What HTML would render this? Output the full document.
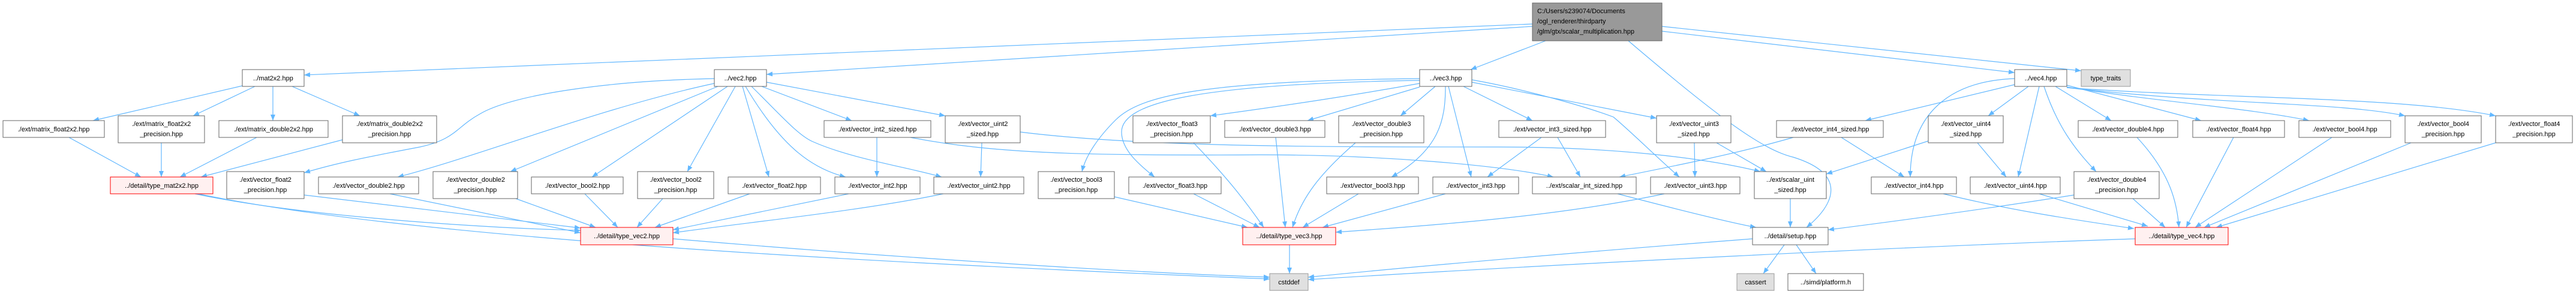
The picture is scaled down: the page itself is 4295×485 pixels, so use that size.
<!DOCTYPE html>
<html><head><meta charset="utf-8"><style>
html,body{margin:0;padding:0;background:#fff;}
svg{display:block;}
text{font-family:"Liberation Sans",sans-serif;font-size:11px;fill:#000;}
.n{fill:#fff;stroke:#666;stroke-width:1;}
.r{fill:#fff0f0;stroke:#f00;stroke-width:1;}
.g{fill:#e0e0e0;stroke:#999;stroke-width:1;}
.e{fill:none;stroke:#63b8ff;stroke-width:1.2;marker-end:url(#a);}
</style></head><body>
<svg width="4295" height="485" viewBox="0 0 4295 485" xmlns="http://www.w3.org/2000/svg">
<defs><marker id="a" markerWidth="10" markerHeight="8" refX="10" refY="4" orient="auto" markerUnits="userSpaceOnUse"><path d="M0,0 L10,4 L0,8 z" fill="#63b8ff"/></marker></defs>
<g>
<!-- root edges -->
<path class="e" d="M2555,40 L507,125"/>
<path class="e" d="M2555,44 L1278,124"/>
<path class="e" d="M2577,68 L2452,116"/>
<path class="e" d="M2771,52 L3359,121"/>
<path class="e" d="M2771,44 L3470,118"/>
<path class="e" d="M2715,68 C2870,200 2940,250 2990,262 C3080,290 3060,340 3012,379"/>
<!-- mat2x2 -->
<path class="e" d="M404,143 L155,201"/>
<path class="e" d="M425,144 L322,193"/>
<path class="e" d="M455,144 L455,201"/>
<path class="e" d="M487,144 L600,193"/>
<path class="e" d="M115,229 L235,295"/>
<path class="e" d="M269,238 L269,295"/>
<path class="e" d="M428,229 L300,295"/>
<path class="e" d="M571,233 L335,295"/>
<path class="e" d="M325,323 C500,360 800,380 968,384"/>
<path class="e" d="M330,323 C700,400 1500,440 2117,465"/>
<!-- vec2 -->
<path class="e" d="M1191,131 C1000,135 850,160 800,190 C760,212 760,232 700,245 C610,262 560,272 507,288"/>
<path class="e" d="M1191,139 C1000,180 800,260 663,295"/>
<path class="e" d="M1197,144 L851,286"/>
<path class="e" d="M1213,144 L987,295"/>
<path class="e" d="M1226,144 L1146,286"/>
<path class="e" d="M1238,144 L1282,295"/>
<path class="e" d="M1243,144 C1300,240 1350,280 1410,295"/>
<path class="e" d="M1253,144 C1300,190 1330,225 1355,236 C1420,265 1520,280 1570,295"/>
<path class="e" d="M1270,144 L1420,201"/>
<path class="e" d="M1278,137 L1576,193"/>
<path class="e" d="M1462,229 L1462,295"/>
<path class="e" d="M1518,229 C1650,255 1800,260 2100,258 C2300,258 2500,275 2590,295"/>
<path class="e" d="M1637,238 L1635,295"/>
<path class="e" d="M1701,220 C1900,245 2200,245 2500,245 C2700,245 2850,265 2935,286"/>
<path class="e" d="M507,325 L968,380"/>
<path class="e" d="M650,323 L968,388"/>
<path class="e" d="M860,331 L993,379"/>
<path class="e" d="M975,323 L1030,379"/>
<path class="e" d="M1105,331 L1062,379"/>
<path class="e" d="M1250,323 L1092,379"/>
<path class="e" d="M1415,323 L1122,383"/>
<path class="e" d="M1582,321 C1450,350 1250,370 1122,388"/>
<path class="e" d="M1122,398 C1500,430 1900,455 2117,462"/>
<!-- vec3 -->
<path class="e" d="M2367,139 C2250,160 2150,175 2018,193"/>
<path class="e" d="M2367,145 L2180,201"/>
<path class="e" d="M2393,144 L2335,193"/>
<path class="e" d="M2367,131 C2000,135 1900,160 1860,200 C1830,230 1810,260 1804,286"/>
<path class="e" d="M2367,134 C2000,140 1870,170 1870,220 C1870,250 1900,275 1925,295"/>
<path class="e" d="M2410,144 C2410,200 2400,250 2320,295"/>
<path class="e" d="M2415,144 L2453,295"/>
<path class="e" d="M2440,144 L2555,201"/>
<path class="e" d="M2454,137 L2762,197"/>
<path class="e" d="M2454,133 C2550,150 2650,180 2690,195 C2720,220 2760,260 2800,295"/>
<path class="e" d="M2570,229 L2480,295"/>
<path class="e" d="M2597,229 L2635,295"/>
<path class="e" d="M2825,238 L2826,295"/>
<path class="e" d="M2862,238 L2945,286"/>
<path class="e" d="M2990,229 C2900,255 2800,275 2700,295"/>
<path class="e" d="M1990,238 C2050,300 2080,340 2107,379"/>
<path class="e" d="M2127,229 L2143,379"/>
<path class="e" d="M2260,238 C2200,290 2170,330 2155,379"/>
<path class="e" d="M1858,328 L2080,379"/>
<path class="e" d="M1990,323 L2100,379"/>
<path class="e" d="M2265,323 L2172,379"/>
<path class="e" d="M2410,323 L2205,379"/>
<path class="e" d="M2775,323 C2600,360 2400,375 2227,387"/>
<path class="e" d="M2150,408 L2150,456"/>
<path class="e" d="M2697,323 C2800,350 2880,370 2928,379"/>
<path class="e" d="M2985,331 L2985,379"/>
<path class="e" d="M2975,408 L2940,456"/>
<path class="e" d="M2995,408 L3028,456"/>
<path class="e" d="M2922,398 C2700,415 2400,440 2181,462"/>
<path class="e" d="M3560,398 C3200,410 2600,440 2181,466"/>
<!-- vec4 -->
<path class="e" d="M3359,141 L3110,201"/>
<path class="e" d="M3359,131 C3250,135 3185,190 3185,295"/>
<path class="e" d="M3382,144 L3315,193"/>
<path class="e" d="M3400,144 L3365,295"/>
<path class="e" d="M3408,144 C3430,210 3460,250 3495,286"/>
<path class="e" d="M3427,144 L3520,201"/>
<path class="e" d="M3446,142 L3670,201"/>
<path class="e" d="M3446,145 C3600,170 3750,180 3850,201"/>
<path class="e" d="M3446,146 C3700,175 3900,170 4010,193"/>
<path class="e" d="M3446,146 C3700,165 4000,160 4161,193"/>
<path class="e" d="M3070,229 L3175,295"/>
<path class="e" d="M3297,238 L3345,295"/>
<path class="e" d="M3215,235 L3045,290"/>
<path class="e" d="M3240,323 C3350,350 3450,365 3558,381"/>
<path class="e" d="M3400,323 L3581,377"/>
<path class="e" d="M3556,331 L3610,379"/>
<path class="e" d="M3458,325 C3300,350 3150,370 3048,383"/>
<path class="e" d="M3563,229 C3620,290 3630,340 3633,379"/>
<path class="e" d="M3724,229 L3645,379"/>
<path class="e" d="M3888,229 L3660,379"/>
<path class="e" d="M4020,238 L3675,379"/>
<path class="e" d="M4161,238 L3695,379"/>
</g>
<g>
<!-- root -->
<rect x="2555" y="5" width="216" height="63" fill="#999" stroke="#666"/>
<text x="2563" y="22">C:/Users/s239074/Documents</text>
<text x="2563" y="39">/ogl_renderer/thirdparty</text>
<text x="2563" y="56">/glm/gtx/scalar_multiplication.hpp</text>
<!-- row1 -->
<rect class="n" x="404" y="116" width="103" height="28"/><text x="455.5" y="134" text-anchor="middle">../mat2x2.hpp</text>
<rect class="n" x="1191" y="116" width="87" height="28"/><text x="1234.5" y="134" text-anchor="middle">../vec2.hpp</text>
<rect class="n" x="2367" y="116" width="87" height="28"/><text x="2410.5" y="134" text-anchor="middle">../vec3.hpp</text>
<rect class="n" x="3359" y="116" width="87" height="28"/><text x="3402.5" y="134" text-anchor="middle">../vec4.hpp</text>
<rect class="g" x="3470" y="116" width="82" height="28"/><text x="3511" y="134" text-anchor="middle">type_traits</text>
<!-- row2 -->
<rect class="n" x="5" y="201" width="169" height="28"/><text x="89.5" y="219" text-anchor="middle">./ext/matrix_float2x2.hpp</text>
<rect class="n" x="197" y="193" width="144" height="45"/><text x="269" y="210" text-anchor="middle">./ext/matrix_float2x2</text><text x="269" y="227" text-anchor="middle">_precision.hpp</text>
<rect class="n" x="365" y="201" width="182" height="28"/><text x="456" y="219" text-anchor="middle">./ext/matrix_double2x2.hpp</text>
<rect class="n" x="571" y="193" width="157" height="45"/><text x="649.5" y="210" text-anchor="middle">./ext/matrix_double2x2</text><text x="649.5" y="227" text-anchor="middle">_precision.hpp</text>
<rect class="n" x="1374" y="201" width="178" height="28"/><text x="1463" y="219" text-anchor="middle">./ext/vector_int2_sized.hpp</text>
<rect class="n" x="1576" y="193" width="125" height="45"/><text x="1638.5" y="210" text-anchor="middle">./ext/vector_uint2</text><text x="1638.5" y="227" text-anchor="middle">_sized.hpp</text>
<rect class="n" x="1889" y="193" width="129" height="45"/><text x="1953.5" y="210" text-anchor="middle">./ext/vector_float3</text><text x="1953.5" y="227" text-anchor="middle">_precision.hpp</text>
<rect class="n" x="2042" y="201" width="167" height="28"/><text x="2125.5" y="219" text-anchor="middle">./ext/vector_double3.hpp</text>
<rect class="n" x="2232" y="193" width="142" height="45"/><text x="2303" y="210" text-anchor="middle">./ext/vector_double3</text><text x="2303" y="227" text-anchor="middle">_precision.hpp</text>
<rect class="n" x="2499" y="201" width="178" height="28"/><text x="2588" y="219" text-anchor="middle">./ext/vector_int3_sized.hpp</text>
<rect class="n" x="2762" y="193" width="124" height="45"/><text x="2824" y="210" text-anchor="middle">./ext/vector_uint3</text><text x="2824" y="227" text-anchor="middle">_sized.hpp</text>
<rect class="n" x="2962" y="201" width="178" height="28"/><text x="3051" y="219" text-anchor="middle">./ext/vector_int4_sized.hpp</text>
<rect class="n" x="3215" y="193" width="125" height="45"/><text x="3277.5" y="210" text-anchor="middle">./ext/vector_uint4</text><text x="3277.5" y="227" text-anchor="middle">_sized.hpp</text>
<rect class="n" x="3465" y="201" width="166" height="28"/><text x="3548" y="219" text-anchor="middle">./ext/vector_double4.hpp</text>
<rect class="n" x="3656" y="201" width="153" height="28"/><text x="3732.5" y="219" text-anchor="middle">./ext/vector_float4.hpp</text>
<rect class="n" x="3833" y="201" width="153" height="28"/><text x="3909.5" y="219" text-anchor="middle">./ext/vector_bool4.hpp</text>
<rect class="n" x="4010" y="193" width="127" height="45"/><text x="4073.5" y="210" text-anchor="middle">./ext/vector_bool4</text><text x="4073.5" y="227" text-anchor="middle">_precision.hpp</text>
<rect class="n" x="4161" y="193" width="128" height="45"/><text x="4225" y="210" text-anchor="middle">./ext/vector_float4</text><text x="4225" y="227" text-anchor="middle">_precision.hpp</text>
<!-- row3 -->
<rect class="r" x="184" y="295" width="171" height="28"/><text x="269.5" y="313" text-anchor="middle">../detail/type_mat2x2.hpp</text>
<rect class="n" x="378" y="286" width="129" height="45"/><text x="442.5" y="303" text-anchor="middle">./ext/vector_float2</text><text x="442.5" y="320" text-anchor="middle">_precision.hpp</text>
<rect class="n" x="531" y="295" width="167" height="28"/><text x="614.5" y="313" text-anchor="middle">./ext/vector_double2.hpp</text>
<rect class="n" x="722" y="286" width="141" height="45"/><text x="792.5" y="303" text-anchor="middle">./ext/vector_double2</text><text x="792.5" y="320" text-anchor="middle">_precision.hpp</text>
<rect class="n" x="886" y="295" width="153" height="28"/><text x="962.5" y="313" text-anchor="middle">./ext/vector_bool2.hpp</text>
<rect class="n" x="1063" y="286" width="127" height="45"/><text x="1126.5" y="303" text-anchor="middle">./ext/vector_bool2</text><text x="1126.5" y="320" text-anchor="middle">_precision.hpp</text>
<rect class="n" x="1214" y="295" width="154" height="28"/><text x="1291" y="313" text-anchor="middle">./ext/vector_float2.hpp</text>
<rect class="n" x="1392" y="295" width="142" height="28"/><text x="1463" y="313" text-anchor="middle">./ext/vector_int2.hpp</text>
<rect class="n" x="1557" y="295" width="150" height="28"/><text x="1632" y="313" text-anchor="middle">./ext/vector_uint2.hpp</text>
<rect class="n" x="1731" y="286" width="127" height="45"/><text x="1794.5" y="303" text-anchor="middle">./ext/vector_bool3</text><text x="1794.5" y="320" text-anchor="middle">_precision.hpp</text>
<rect class="n" x="1882" y="295" width="154" height="28"/><text x="1959" y="313" text-anchor="middle">./ext/vector_float3.hpp</text>
<rect class="n" x="2212" y="295" width="153" height="28"/><text x="2288.5" y="313" text-anchor="middle">./ext/vector_bool3.hpp</text>
<rect class="n" x="2389" y="295" width="143" height="28"/><text x="2460.5" y="313" text-anchor="middle">./ext/vector_int3.hpp</text>
<rect class="n" x="2555" y="295" width="173" height="28"/><text x="2641.5" y="313" text-anchor="middle">../ext/scalar_int_sized.hpp</text>
<rect class="n" x="2752" y="295" width="149" height="28"/><text x="2826.5" y="313" text-anchor="middle">./ext/vector_uint3.hpp</text>
<rect class="n" x="2925" y="286" width="120" height="45"/><text x="2985" y="303" text-anchor="middle">../ext/scalar_uint</text><text x="2985" y="320" text-anchor="middle">_sized.hpp</text>
<rect class="n" x="3120" y="295" width="142" height="28"/><text x="3191" y="313" text-anchor="middle">./ext/vector_int4.hpp</text>
<rect class="n" x="3285" y="295" width="150" height="28"/><text x="3360" y="313" text-anchor="middle">./ext/vector_uint4.hpp</text>
<rect class="n" x="3458" y="286" width="142" height="45"/><text x="3529" y="303" text-anchor="middle">./ext/vector_double4</text><text x="3529" y="320" text-anchor="middle">_precision.hpp</text>
<!-- row4 -->
<rect class="r" x="968" y="379" width="154" height="29"/><text x="1045" y="397" text-anchor="middle">../detail/type_vec2.hpp</text>
<rect class="r" x="2072" y="379" width="155" height="29"/><text x="2149.5" y="397" text-anchor="middle">../detail/type_vec3.hpp</text>
<rect class="n" x="2922" y="379" width="126" height="29"/><text x="2985" y="397" text-anchor="middle">../detail/setup.hpp</text>
<rect class="r" x="3560" y="379" width="155" height="29"/><text x="3637.5" y="397" text-anchor="middle">../detail/type_vec4.hpp</text>
<!-- row5 -->
<rect class="g" x="2117" y="456" width="64" height="28"/><text x="2149" y="474" text-anchor="middle">cstddef</text>
<rect class="g" x="2896" y="456" width="62" height="28"/><text x="2927" y="474" text-anchor="middle">cassert</text>
<rect class="n" x="2981" y="456" width="126" height="28"/><text x="3044" y="474" text-anchor="middle">../simd/platform.h</text>
</g>
</svg>
</body></html>
